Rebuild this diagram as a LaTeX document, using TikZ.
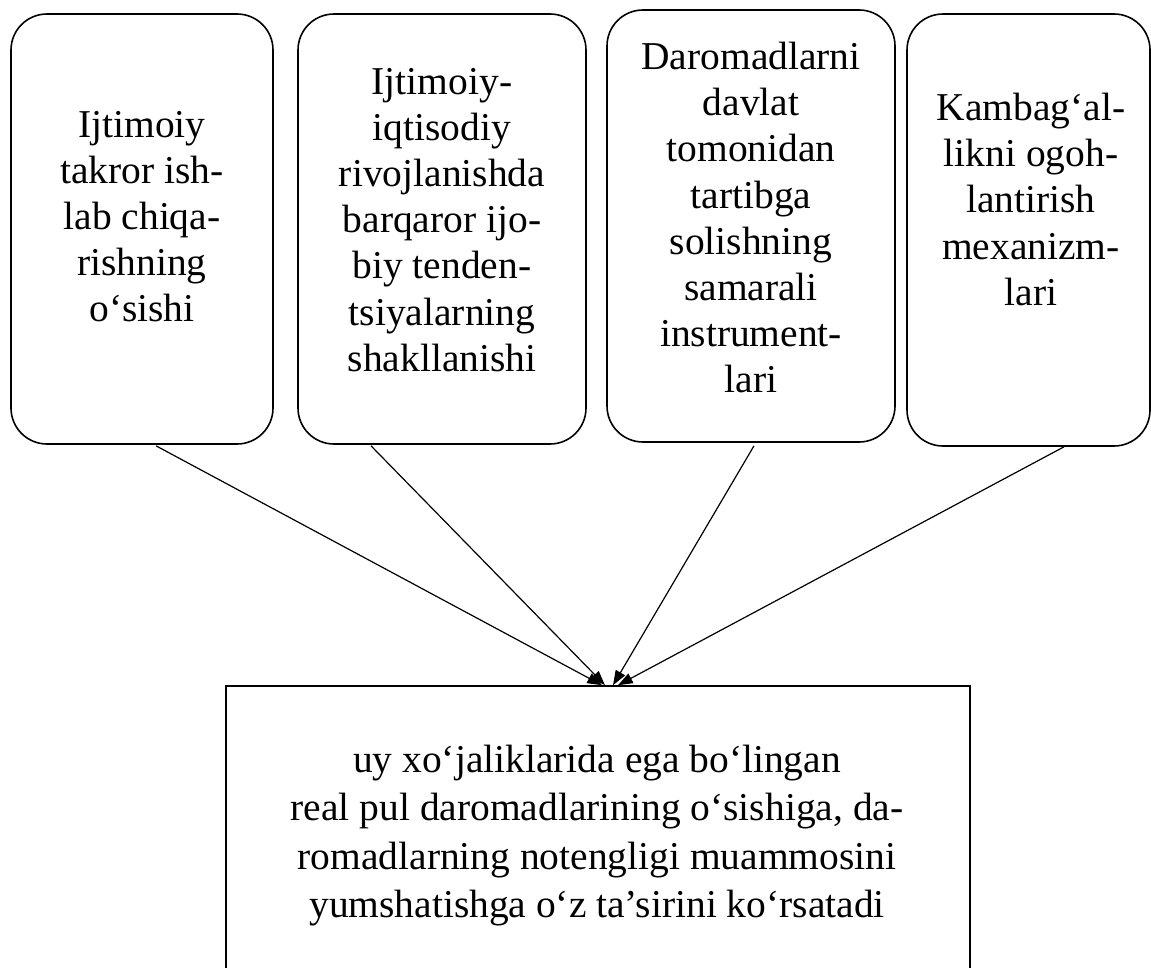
\documentclass[tikz,border=0pt]{standalone}
\usepackage{fontspec}
\setmainfont{Liberation Serif}
\usetikzlibrary{arrows.meta,calc}
\begin{document}
\begin{tikzpicture}[x=0.75pt,y=-0.75pt,
  rbox/.style={draw,line width=1.2pt,rounded corners=27pt,inner sep=0pt},
  sbox/.style={draw,line width=1.2pt,inner sep=0pt},
  btxt/.style={align=center,inner sep=0pt,anchor=north,font=\fontsize{29.6pt}{34.6pt}\selectfont},
  ctxt/.style={align=center,inner sep=0pt,anchor=north,font=\fontsize{29.6pt}{36.2pt}\selectfont},
  conn/.style={line width=0.9pt,-{Triangle[length=11pt,width=8pt]}}]
\useasboundingbox (0,0) rectangle (1151,967);

\node[rbox,minimum width=196.5pt,minimum height=322.5pt] (b1) at (142,229) {};
\node[rbox,minimum width=216pt,minimum height=322.5pt] (b2) at (442,229) {};
\node[rbox,minimum width=216pt,minimum height=324pt] (b3) at (751,226) {};
\node[rbox,minimum width=182.25pt,minimum height=324pt] (b4) at (1028.5,230) {};
\node[sbox,minimum width=558pt,minimum height=228pt] (r) at (598,838) {};

\node[btxt] (t1) at (142,111) {Ijtimoiy\\takror ish-\\lab chiqa-\\rishning\\o‘sishi};
\node[btxt] (t2) at (442,68) {Ijtimoiy-\\iqtisodiy\\rivojlanishda\\barqaror ijo-\\biy tenden-\\tsiyalarning\\shakllanishi};
\node[btxt] (t3) at (751,42) {Daromadlarni\\davlat\\tomonidan\\tartibga\\solishning\\samarali\\instrument-\\lari};
\node[btxt] (t4) at (1031,93) {Kambag‘al-\\likni ogoh-\\lantirish\\mexanizm-\\lari};
\node[ctxt] (tr) at (597,745) {uy xo‘jaliklarida ega bo‘lingan\\real pul daromadlarining o‘sishiga, da-\\romadlarning notengligi muammosini\\yumshatishga o‘z ta’sirini ko‘rsatadi};

\draw[conn] ($(b1.south)+(14,1)$) -- ($(r.north)+(4,0)$);
\draw[conn] ($(b2.south)+(-71,1)$) -- ($(r.north)+(7,0)$);
\draw[conn] ($(b3.south)+(3,3)$) -- ($(r.north)+(15,0)$);
\draw[conn] ($(b4.south)+(35.5,0)$) -- ($(r.north)+(20,0)$);
\end{tikzpicture}
\end{document}
